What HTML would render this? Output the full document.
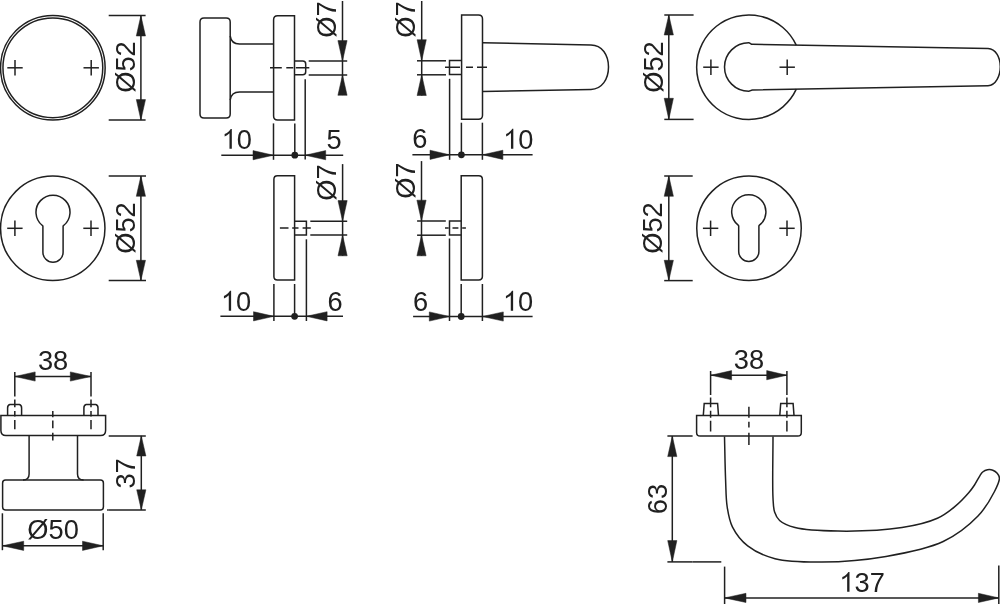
<!DOCTYPE html>
<html><head><meta charset="utf-8"><style>
html,body{margin:0;padding:0;background:#fff;width:1000px;height:604px;overflow:hidden}
svg{display:block;will-change:transform}
text{font-family:"Liberation Sans",sans-serif;fill:#202020;stroke:none}
</style></head><body>
<svg width="1000" height="604" viewBox="0 0 1000 604" stroke="#202020" stroke-width="1.5" fill="none" stroke-linecap="butt">
<circle cx="52.85" cy="67.8" r="52.3" fill="none"/>
<circle cx="52.85" cy="67.8" r="49.9" fill="none"/>
<line x1="7.3" y1="67.8" x2="22.7" y2="67.8"/>
<line x1="15" y1="60.1" x2="15" y2="75.5"/>
<line x1="83.5" y1="67.8" x2="98.9" y2="67.8"/>
<line x1="91.2" y1="60.1" x2="91.2" y2="75.5"/>
<line x1="108.7" y1="15.6" x2="145.6" y2="15.6"/>
<line x1="108.7" y1="120.1" x2="145.6" y2="120.1"/>
<line x1="140.9" y1="15.6" x2="140.9" y2="120.1"/>
<polygon points="140.90,15.60 136.30,36.00 145.50,36.00" fill="#202020" stroke="#202020" stroke-width="0.5" stroke-linejoin="round"/>
<polygon points="140.90,120.10 145.50,99.60 136.30,99.60" fill="#202020" stroke="#202020" stroke-width="0.5" stroke-linejoin="round"/>
<g transform="translate(134.64,92.79) rotate(-90) scale(0.98,1)"><text x="0" y="0" font-size="27.8">Ø52</text></g>
<path d="M204.0,17.9 H226.2 Q230.2,17.9 230.2,21.9 V114.1 Q230.2,118.1 226.2,118.1 H204.0 Q200.0,118.1 200.0,114.1 V21.9 Q200.0,17.9 204.0,17.9 Z" fill="none" />
<path d="M230.2,35.8 Q231.2,43.9 239.5,43.9 H273.6" fill="none" />
<path d="M230.2,100.2 Q231.2,92.1 239.5,92.1 H273.6" fill="none" />
<path d="M277.6,15.7 H294.5 V120 H277.6 Q273.6,120 273.6,116 V19.7 Q273.6,15.7 277.6,15.7 Z" fill="none" />
<path d="M294.5,60.9 H302.7 Q305.7,60.9 305.7,63.9 V71.8 Q305.7,74.8 302.7,74.8 H294.5" fill="none" />
<line x1="270" y1="67.8" x2="309.3" y2="67.8" stroke-dasharray="11.8 4.5 7 2.5 13.5"/>
<line x1="308.7" y1="60.9" x2="347.2" y2="60.9"/>
<line x1="308.7" y1="75" x2="347.2" y2="75"/>
<line x1="342.5" y1="1" x2="342.5" y2="95.1"/>
<polygon points="342.50,60.90 347.10,40.60 337.90,40.60" fill="#202020" stroke="#202020" stroke-width="0.5" stroke-linejoin="round"/>
<polygon points="342.50,75.00 337.90,95.30 347.10,95.30" fill="#202020" stroke="#202020" stroke-width="0.5" stroke-linejoin="round"/>
<g transform="translate(336.29,37.78) rotate(-90) scale(0.98,1)"><text x="0" y="0" font-size="27.8">Ø7</text></g>
<line x1="221.3" y1="155.2" x2="343.2" y2="155.2"/>
<line x1="273.5" y1="123.4" x2="273.5" y2="159.8"/>
<line x1="294.8" y1="123.4" x2="294.8" y2="155.2"/>
<line x1="305.2" y1="79.2" x2="305.2" y2="159.6"/>
<circle cx="294.8" cy="155.2" r="3.4" fill="#202020" stroke="none"/>
<polygon points="273.50,155.20 253.00,150.60 253.00,159.80" fill="#202020" stroke="#202020" stroke-width="0.5" stroke-linejoin="round"/>
<polygon points="305.20,155.20 325.70,159.80 325.70,150.60" fill="#202020" stroke="#202020" stroke-width="0.5" stroke-linejoin="round"/>
<g transform="translate(221.66,148.85) scale(0.98,1)"><text x="0" y="0" font-size="27.8">&#x2007;0</text><path transform="translate(0.000,0) scale(27.8)" d="M0.373,0 H0.287 V-0.561 C0.232,-0.508 0.167,-0.468 0.109,-0.443 V-0.530 C0.200,-0.573 0.288,-0.640 0.333,-0.716 H0.373 Z" fill="#202020" stroke="none"/></g>
<g transform="translate(326.54,149.20) scale(0.98,1)"><text x="0" y="0" font-size="27.8">5</text></g>
<path d="M461.6,15.0 H478.5 Q482.5,15.0 482.5,19.0 V115.2 Q482.5,119.2 478.5,119.2 H461.6 Z" fill="none" />
<path d="M482.5,42.8 L591,44.9 C602,44.9 608.5,55 608.5,67 C608.5,79 602,89.2 591,89.4 L482.4,91.4" fill="none" />
<path d="M461.5,60.6 H449.5 V74.6 H461.5" fill="none" />
<line x1="445" y1="67.3" x2="487" y2="67.3" stroke-dasharray="15 6 7 4"/>
<line x1="417" y1="60.8" x2="446" y2="60.8"/>
<line x1="417" y1="74.8" x2="446" y2="74.8"/>
<line x1="421.7" y1="1" x2="421.7" y2="95.5"/>
<polygon points="421.70,60.80 426.30,39.70 417.10,39.70" fill="#202020" stroke="#202020" stroke-width="0.5" stroke-linejoin="round"/>
<polygon points="421.70,74.80 417.10,95.50 426.30,95.50" fill="#202020" stroke="#202020" stroke-width="0.5" stroke-linejoin="round"/>
<g transform="translate(415.24,37.63) rotate(-90) scale(0.98,1)"><text x="0" y="0" font-size="27.8">Ø7</text></g>
<line x1="412.4" y1="154.8" x2="532.6" y2="154.8"/>
<line x1="449.6" y1="78.8" x2="449.6" y2="159.8"/>
<line x1="461.4" y1="122.7" x2="461.4" y2="154.8"/>
<line x1="482.4" y1="122.7" x2="482.4" y2="159.8"/>
<circle cx="461.4" cy="154.8" r="3.4" fill="#202020" stroke="none"/>
<polygon points="449.60,154.80 430.00,150.20 430.00,159.40" fill="#202020" stroke="#202020" stroke-width="0.5" stroke-linejoin="round"/>
<polygon points="482.40,154.80 502.90,159.40 502.90,150.20" fill="#202020" stroke="#202020" stroke-width="0.5" stroke-linejoin="round"/>
<g transform="translate(412.22,148.49) scale(0.98,1)"><text x="0" y="0" font-size="27.8">6</text></g>
<g transform="translate(503.16,148.70) scale(0.98,1)"><text x="0" y="0" font-size="27.8">&#x2007;0</text><path transform="translate(0.000,0) scale(27.8)" d="M0.373,0 H0.287 V-0.561 C0.232,-0.508 0.167,-0.468 0.109,-0.443 V-0.530 C0.200,-0.573 0.288,-0.640 0.333,-0.716 H0.373 Z" fill="#202020" stroke="none"/></g>
<path d="M796.25,45.12 A52.25,52.25 0 1 0 796.31,89.16" fill="none" />
<path d="M748.7,42.8 C750.2,42.8 750.8,44.3 752.5,44.35 L988,48.5 C996,48.7 1000.3,58 1000.3,66.8 C1000.3,75.5 996,85.5 988,85.7 L752.5,89.95 C750.8,90 750.2,91.2 748.7,91.2 A24.2,24.2 0 0 1 748.7,42.8 Z" fill="none" />
<line x1="703.2" y1="67.2" x2="718.6" y2="67.2"/>
<line x1="710.9" y1="59.5" x2="710.9" y2="74.9"/>
<line x1="779.5" y1="67.2" x2="794.9" y2="67.2"/>
<line x1="787.2" y1="59.5" x2="787.2" y2="74.9"/>
<line x1="664.3" y1="15" x2="693.6" y2="15"/>
<line x1="664.3" y1="119.4" x2="693.6" y2="119.4"/>
<line x1="668.8" y1="15" x2="668.8" y2="119.4"/>
<polygon points="668.80,15.00 664.20,35.00 673.40,35.00" fill="#202020" stroke="#202020" stroke-width="0.5" stroke-linejoin="round"/>
<polygon points="668.80,119.40 673.40,98.30 664.20,98.30" fill="#202020" stroke="#202020" stroke-width="0.5" stroke-linejoin="round"/>
<g transform="translate(662.84,92.74) rotate(-90) scale(0.98,1)"><text x="0" y="0" font-size="27.8">Ø52</text></g>
<circle cx="52.75" cy="228.3" r="52.2" fill="none"/>
<line x1="7.2" y1="228.3" x2="22.6" y2="228.3"/>
<line x1="14.9" y1="220.6" x2="14.9" y2="236"/>
<line x1="83.3" y1="228.3" x2="98.7" y2="228.3"/>
<line x1="91" y1="220.6" x2="91" y2="236"/>
<path d="M42.90,226.37 Q42.90,225.87 42.36,225.46 A17.0,17.0 0 1 1 63.64,225.46 Q63.10,225.87 63.10,226.37 V252.20 A10.1,10.1 0 0 1 42.90,252.20 Z" fill="none" />
<line x1="108.7" y1="176" x2="146" y2="176"/>
<line x1="108.7" y1="280.6" x2="146" y2="280.6"/>
<line x1="140.9" y1="176" x2="140.9" y2="280.6"/>
<polygon points="140.90,176.00 136.30,196.30 145.50,196.30" fill="#202020" stroke="#202020" stroke-width="0.5" stroke-linejoin="round"/>
<polygon points="140.90,280.60 145.50,260.30 136.30,260.30" fill="#202020" stroke="#202020" stroke-width="0.5" stroke-linejoin="round"/>
<g transform="translate(134.64,253.74) rotate(-90) scale(0.98,1)"><text x="0" y="0" font-size="27.8">Ø52</text></g>
<path d="M277.4,175.8 H294.6 V280.0 H277.4 Q273.9,280.0 273.9,276.5 V179.3 Q273.9,175.8 277.4,175.8 Z" fill="none" />
<path d="M294.6,221.3 H306.4 V234.9 H294.6" fill="none" />
<line x1="279.9" y1="228.1" x2="310.8" y2="228.1" stroke-dasharray="8.6 3.7 6.3 4.1 8.2"/>
<line x1="310.3" y1="221.2" x2="347.2" y2="221.2"/>
<line x1="310.3" y1="235.1" x2="347.2" y2="235.1"/>
<line x1="342.6" y1="164.1" x2="342.6" y2="255.8"/>
<polygon points="342.60,221.20 347.20,200.60 338.00,200.60" fill="#202020" stroke="#202020" stroke-width="0.5" stroke-linejoin="round"/>
<polygon points="342.60,235.10 338.00,255.80 347.20,255.80" fill="#202020" stroke="#202020" stroke-width="0.5" stroke-linejoin="round"/>
<g transform="translate(336.34,200.73) rotate(-90) scale(0.98,1)"><text x="0" y="0" font-size="27.8">Ø7</text></g>
<line x1="220.4" y1="316.3" x2="343" y2="316.3"/>
<line x1="273.9" y1="284" x2="273.9" y2="321"/>
<line x1="294.6" y1="284" x2="294.6" y2="316.3"/>
<line x1="306.4" y1="239.3" x2="306.4" y2="321"/>
<circle cx="294.6" cy="316.3" r="3.4" fill="#202020" stroke="none"/>
<polygon points="273.90,316.30 253.50,311.70 253.50,320.90" fill="#202020" stroke="#202020" stroke-width="0.5" stroke-linejoin="round"/>
<polygon points="306.40,316.30 327.10,320.90 327.10,311.70" fill="#202020" stroke="#202020" stroke-width="0.5" stroke-linejoin="round"/>
<g transform="translate(220.96,310.75) scale(0.98,1)"><text x="0" y="0" font-size="27.8">&#x2007;0</text><path transform="translate(0.000,0) scale(27.8)" d="M0.373,0 H0.287 V-0.561 C0.232,-0.508 0.167,-0.468 0.109,-0.443 V-0.530 C0.200,-0.573 0.288,-0.640 0.333,-0.716 H0.373 Z" fill="#202020" stroke="none"/></g>
<g transform="translate(327.52,310.54) scale(0.98,1)"><text x="0" y="0" font-size="27.8">6</text></g>
<path d="M461.2,175.8 H478.7 Q482.4,175.8 482.4,179.5 V276.3 Q482.4,280.0 478.7,280.0 H461.2 Z" fill="none" />
<path d="M461.2,221.1 H449.5 V234.9 H461.2" fill="none" />
<line x1="445" y1="228.1" x2="465.9" y2="228.1" stroke-dasharray="3.7 3.8 5.9 3.8 3.7"/>
<line x1="417.1" y1="221" x2="445.8" y2="221"/>
<line x1="417.1" y1="235.2" x2="445.8" y2="235.2"/>
<line x1="421.5" y1="161.1" x2="421.5" y2="255.8"/>
<polygon points="421.50,221.00 426.10,200.20 416.90,200.20" fill="#202020" stroke="#202020" stroke-width="0.5" stroke-linejoin="round"/>
<polygon points="421.50,235.20 416.90,255.80 426.10,255.80" fill="#202020" stroke="#202020" stroke-width="0.5" stroke-linejoin="round"/>
<g transform="translate(415.24,198.83) rotate(-90) scale(0.98,1)"><text x="0" y="0" font-size="27.8">Ø7</text></g>
<line x1="413.1" y1="316.5" x2="532.6" y2="316.5"/>
<line x1="449.5" y1="238.5" x2="449.5" y2="321"/>
<line x1="461.2" y1="284" x2="461.2" y2="316.5"/>
<line x1="482.4" y1="284" x2="482.4" y2="321"/>
<circle cx="461.2" cy="316.5" r="3.4" fill="#202020" stroke="none"/>
<polygon points="449.50,316.50 429.30,311.90 429.30,321.10" fill="#202020" stroke="#202020" stroke-width="0.5" stroke-linejoin="round"/>
<polygon points="482.40,316.50 503.30,321.10 503.30,311.90" fill="#202020" stroke="#202020" stroke-width="0.5" stroke-linejoin="round"/>
<g transform="translate(412.92,310.54) scale(0.98,1)"><text x="0" y="0" font-size="27.8">6</text></g>
<g transform="translate(502.96,310.75) scale(0.98,1)"><text x="0" y="0" font-size="27.8">&#x2007;0</text><path transform="translate(0.000,0) scale(27.8)" d="M0.373,0 H0.287 V-0.561 C0.232,-0.508 0.167,-0.468 0.109,-0.443 V-0.530 C0.200,-0.573 0.288,-0.640 0.333,-0.716 H0.373 Z" fill="#202020" stroke="none"/></g>
<circle cx="749.0" cy="228.3" r="52.25" fill="none"/>
<line x1="702.9" y1="228.3" x2="718.3" y2="228.3"/>
<line x1="710.6" y1="220.6" x2="710.6" y2="236"/>
<line x1="779.3" y1="228.3" x2="794.7" y2="228.3"/>
<line x1="787" y1="220.6" x2="787" y2="236"/>
<path d="M738.70,226.10 Q738.70,225.60 738.16,225.18 A17.1,17.1 0 1 1 759.44,225.18 Q758.90,225.60 758.90,226.10 V251.40 A10.1,10.1 0 0 1 738.70,251.40 Z" fill="none" />
<line x1="664.2" y1="176" x2="692.7" y2="176"/>
<line x1="664.2" y1="280.6" x2="692.7" y2="280.6"/>
<line x1="668.8" y1="176" x2="668.8" y2="280.6"/>
<polygon points="668.80,176.00 664.20,196.30 673.40,196.30" fill="#202020" stroke="#202020" stroke-width="0.5" stroke-linejoin="round"/>
<polygon points="668.80,280.60 673.40,260.30 664.20,260.30" fill="#202020" stroke="#202020" stroke-width="0.5" stroke-linejoin="round"/>
<g transform="translate(662.34,253.74) rotate(-90) scale(0.98,1)"><text x="0" y="0" font-size="27.8">Ø52</text></g>
<line x1="15" y1="376.5" x2="91" y2="376.5"/>
<polygon points="15.00,376.50 35.20,381.10 35.20,371.90" fill="#202020" stroke="#202020" stroke-width="0.5" stroke-linejoin="round"/>
<polygon points="91.00,376.50 70.30,371.90 70.30,381.10" fill="#202020" stroke="#202020" stroke-width="0.5" stroke-linejoin="round"/>
<g transform="translate(37.88,370.39) scale(0.98,1)"><text x="0" y="0" font-size="27.8">38</text></g>
<line x1="14.8" y1="372" x2="14.8" y2="429.2" stroke-dasharray="24.4 3.2 7.7 3.7 5.4 3.6 9.2"/>
<line x1="91" y1="372" x2="91" y2="429.2" stroke-dasharray="24.4 3.2 7.7 3.7 5.4 3.6 9.2"/>
<path d="M0.9,415.4 H105.6 V430.6 Q105.6,435.6 100.6,435.6 H5.9 Q0.9,435.6 0.9,430.6 Z" fill="none" />
<path d="M7.6,415.4 V408.0 Q7.6,405.0 9.8,404.5 H19.4 Q21.6,405.0 21.6,408.0 V415.4" fill="none" />
<path d="M83.9,415.4 V408.0 Q83.9,405.0 86.1,404.5 H95.8 Q98.0,405.0 98.0,408.0 V415.4" fill="none" />
<line x1="52.8" y1="411" x2="52.8" y2="440.5" stroke-dasharray="6.3 3.2 7.8 4.5 7.7"/>
<path d="M29.1,435.5 V474 Q29.1,480 23,480" fill="none" />
<path d="M77.5,435.5 V474 Q77.5,480 83.6,480" fill="none" />
<path d="M5.6,480 H100.4 Q103.4,480 103.4,483 V506.9 Q103.4,509.9 100.4,509.9 H5.6 Q2.6,509.9 2.6,506.9 V483 Q2.6,480 5.6,480 Z" fill="none" />
<line x1="108.7" y1="435.9" x2="145.8" y2="435.9"/>
<line x1="108.7" y1="509.9" x2="145.8" y2="509.9"/>
<line x1="141.3" y1="435.9" x2="141.3" y2="509.9"/>
<polygon points="141.30,435.90 136.70,456.00 145.90,456.00" fill="#202020" stroke="#202020" stroke-width="0.5" stroke-linejoin="round"/>
<polygon points="141.30,509.90 145.90,489.80 136.70,489.80" fill="#202020" stroke="#202020" stroke-width="0.5" stroke-linejoin="round"/>
<line x1="107.1" y1="509.9" x2="108.7" y2="509.9"/>
<g transform="translate(135.04,488.58) rotate(-90) scale(0.98,1)"><text x="0" y="0" font-size="27.8">37</text></g>
<line x1="2.4" y1="513.3" x2="2.4" y2="550.2"/>
<line x1="103.2" y1="513.3" x2="103.2" y2="550.2"/>
<line x1="2.4" y1="545.8" x2="103.2" y2="545.8"/>
<polygon points="2.40,545.80 23.70,550.40 23.70,541.20" fill="#202020" stroke="#202020" stroke-width="0.5" stroke-linejoin="round"/>
<polygon points="103.20,545.80 82.50,541.20 82.50,550.40" fill="#202020" stroke="#202020" stroke-width="0.5" stroke-linejoin="round"/>
<g transform="translate(27.37,539.39) scale(0.98,1)"><text x="0" y="0" font-size="27.8">Ø50</text></g>
<line x1="710.9" y1="375.2" x2="786.9" y2="375.2"/>
<polygon points="710.90,375.20 731.60,379.80 731.60,370.60" fill="#202020" stroke="#202020" stroke-width="0.5" stroke-linejoin="round"/>
<polygon points="786.90,375.20 766.70,370.60 766.70,379.80" fill="#202020" stroke="#202020" stroke-width="0.5" stroke-linejoin="round"/>
<g transform="translate(733.78,368.89) scale(0.98,1)"><text x="0" y="0" font-size="27.8">38</text></g>
<line x1="710.6" y1="371.1" x2="710.6" y2="431.6" stroke-dasharray="23.8 2.5 9.9 3.5 6.9 3 10.9"/>
<line x1="786.9" y1="371.1" x2="786.9" y2="431.6" stroke-dasharray="23.8 2.5 9.9 3.5 6.9 3 10.9"/>
<path d="M696.6,415.4 H801.3 V432.5 Q801.3,436.1 797.7,436.1 H700.2 Q696.6,436.1 696.6,432.5 Z" fill="none" />
<path d="M703.3,415.4 L704.2,403.4 H717.6 L718.5,415.4" fill="none" />
<path d="M779.8,415.4 L780.7,403.4 H793.1 L794,415.4" fill="none" />
<line x1="748.9" y1="406.7" x2="748.9" y2="445" stroke-dasharray="11.1 3.9 5.8 5.2 12.3"/>
<path d="M724.50,436.50 C724.87,451.00 725.06,467.22 725.60,480.00 C726.03,490.07 725.89,498.76 727.20,507.00 C728.34,514.17 729.27,520.57 732.40,526.80 C735.83,533.61 741.13,540.73 747.70,545.90 C754.99,551.64 764.37,555.94 775.00,558.70 C788.28,562.15 805.13,562.14 822.00,562.00 C841.70,561.83 865.41,559.96 886.00,556.40 C905.75,552.99 927.09,549.15 943.20,541.50 C956.96,534.96 969.11,525.25 978.00,516.00 C985.36,508.35 990.85,498.64 994.50,491.50 C997.04,486.54 999.58,481.44 999.44,478.11 C999.36,476.08 998.29,474.59 997.19,473.28 C996.09,471.96 994.44,470.81 992.82,470.22 C991.21,469.63 989.20,469.46 987.51,469.76 C985.82,470.05 983.97,470.98 982.68,472.01 C981.50,472.95 980.97,474.04 979.97,475.55 C978.39,477.90 976.44,482.05 974.50,485.00 C972.67,487.78 971.18,489.93 968.70,492.80 C965.17,496.88 959.92,502.50 954.80,506.70 C949.52,511.03 944.54,515.09 937.40,518.30 C927.95,522.55 915.66,525.45 902.00,527.60 C883.92,530.44 857.21,531.36 838.00,531.10 C822.24,530.89 805.56,530.37 795.00,527.60 C788.38,525.86 783.06,523.63 779.60,520.50 C776.96,518.11 775.71,515.32 774.60,512.00 C773.27,508.03 773.36,504.33 773.00,498.00 C772.25,484.77 773.00,457.00 773.00,436.50" fill="none" />
<line x1="667.4" y1="436" x2="692.6" y2="436"/>
<line x1="667.4" y1="561.9" x2="692.6" y2="561.9"/>
<line x1="672.3" y1="436" x2="672.3" y2="561.9"/>
<polygon points="672.30,436.00 667.70,456.60 676.90,456.60" fill="#202020" stroke="#202020" stroke-width="0.5" stroke-linejoin="round"/>
<polygon points="672.30,561.90 676.90,540.60 667.70,540.60" fill="#202020" stroke="#202020" stroke-width="0.5" stroke-linejoin="round"/>
<line x1="692.6" y1="561.9" x2="721.3" y2="561.9"/>
<g transform="translate(666.54,514.16) rotate(-90) scale(0.98,1)"><text x="0" y="0" font-size="27.8">63</text></g>
<line x1="724.6" y1="566.6" x2="724.6" y2="604"/>
<line x1="998.8" y1="565.6" x2="998.8" y2="604"/>
<line x1="724.6" y1="597.9" x2="998.8" y2="597.9"/>
<polygon points="724.60,597.90 746.00,602.50 746.00,593.30" fill="#202020" stroke="#202020" stroke-width="0.5" stroke-linejoin="round"/>
<polygon points="998.80,597.90 978.40,593.30 978.40,602.50" fill="#202020" stroke="#202020" stroke-width="0.5" stroke-linejoin="round"/>
<g transform="translate(839.33,591.80) scale(0.98,1)"><text x="0" y="0" font-size="27.8">&#x2007;37</text><path transform="translate(0.000,0) scale(27.8)" d="M0.373,0 H0.287 V-0.561 C0.232,-0.508 0.167,-0.468 0.109,-0.443 V-0.530 C0.200,-0.573 0.288,-0.640 0.333,-0.716 H0.373 Z" fill="#202020" stroke="none"/></g>
</svg>
</body></html>
